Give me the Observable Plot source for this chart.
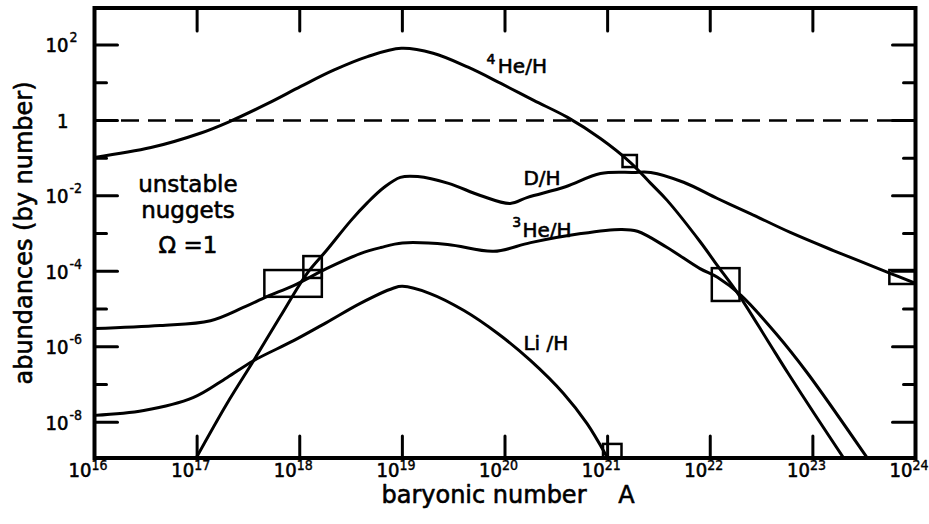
<!DOCTYPE html>
<html><head><meta charset="utf-8">
<script src="https://cdn.jsdelivr.net/npm/d3@7"></script>
<script src="https://cdn.jsdelivr.net/npm/@observablehq/plot@0.6"></script>
<style>body{margin:0;background:#fff}</style>
</head><body><div id="chart"></div>
<script>
// ---- data: [log10 A, log10 abundance] ----
const he4H = [[16.0,-0.98],[16.55,-0.72],[17.03,-0.34],[17.30,-0.05],[17.69,0.45],[18.01,0.90],[18.33,1.33],[18.66,1.69],[18.99,1.91],[19.30,1.78],[19.64,1.41],[19.96,0.98],[20.28,0.53],[20.61,0.08],[20.93,-0.48],[21.22,-1.11],[21.42,-1.67],[21.58,-2.12],[21.90,-3.21],[22.07,-3.85],[22.27,-4.59],[22.56,-5.84],[22.76,-6.71],[23.30,-8.95],[23.37,-9.23]];
const dH = [[16.97,-9.05],[17.29,-7.51],[17.55,-6.37],[17.81,-5.20],[18.07,-4.06],[18.26,-3.45],[18.50,-2.65],[18.66,-2.18],[18.82,-1.78],[18.98,-1.51],[19.15,-1.49],[19.45,-1.67],[19.76,-1.99],[20.05,-2.20],[20.22,-2.04],[20.59,-1.76],[20.93,-1.41],[21.25,-1.38],[21.42,-1.38],[21.74,-1.64],[22.07,-2.07],[22.39,-2.47],[22.78,-2.97],[23.20,-3.45],[23.76,-4.06],[24.0,-4.32]];
const he3H = [[16.0,-5.52],[16.64,-5.44],[17.13,-5.31],[17.45,-4.96],[17.68,-4.67],[17.94,-4.38],[18.26,-3.93],[18.59,-3.53],[18.79,-3.37],[19.0,-3.25],[19.44,-3.29],[19.89,-3.47],[20.25,-3.24],[20.74,-3.0],[21.13,-2.89],[21.29,-2.94],[21.58,-3.37],[21.90,-3.93],[22.07,-4.16],[22.30,-4.64],[22.64,-5.65],[22.95,-6.71],[23.53,-8.95],[23.56,-9.07]];
const liH = [[16.0,-7.82],[16.48,-7.69],[16.96,-7.35],[17.29,-6.82],[17.55,-6.37],[17.94,-5.84],[18.26,-5.36],[18.59,-4.85],[18.91,-4.45],[19.0,-4.40],[19.27,-4.59],[19.60,-5.04],[19.93,-5.65],[20.25,-6.37],[20.57,-7.24],[20.80,-8.04],[21.0,-8.95],[21.02,-9.05]];
// observational boxes: [logA1, logA2, logY1, logY2]
const boxes = [[21.15,21.29,-0.93,-1.25],[22.02,22.29,-3.93,-4.80],[23.75,24.0,-3.98,-4.35],[17.66,18.22,-3.98,-4.69],[18.04,18.22,-3.61,-4.19],[20.96,21.14,-8.59,-8.95]];
// ticks
const xTickExps = [16,17,18,19,20,21,22,23,24];
const yMajorExps = [2,0,-2,-4,-6,-8];
const yMinorExps = [1,-1,-3,-5,-7];
// curve labels: [text, logA, logY, fontSize]
const curveLabels = [["He/H",19.93,1.42,20],["4",19.82,1.62,14],["D/H",20.18,-1.55,20],["He/H",20.17,-2.93,20],["3",20.07,-2.70,14],["Li /H",20.18,-5.93,20]];
const noteLines = [["unstable",16.91,-1.70],["nuggets",16.91,-2.39],["\u03a9 =1",16.91,-3.32]];

const P = v => 10 ** v;
const tickShape = {draw(ctx, l) { ctx.moveTo(0, 0); ctx.lineTo(0, -l); }};
const font = "'DejaVu Sans', sans-serif";
const numFont = "'DejaVu Sans Condensed', 'DejaVu Sans', sans-serif";
const bold = {stroke: "black", strokeWidth: 0.6, fill: "black"};
const series = [he4H, dH, he3H, liH];

const marks = [
  Plot.ruleY([1], {stroke: "black", strokeWidth: 2.5, strokeDasharray: "18,9"}),
  ...series.map(s => Plot.line(s, {x: d => P(d[0]), y: d => P(d[1]), curve: "catmull-rom", stroke: "black", strokeWidth: 3, clip: true})),
  Plot.rect(boxes, {x1: d => P(d[0]), x2: d => P(d[1]), y1: d => P(d[2]), y2: d => P(d[3]), fill: "none", stroke: "black", strokeWidth: 2.5}),
  // ticks
  Plot.vector(xTickExps, {x: e => P(e), frameAnchor: "bottom", rotate: 0, length: 22, anchor: "start", shape: tickShape, stroke: "black", strokeWidth: 3}),
  Plot.vector(xTickExps, {x: e => P(e), frameAnchor: "top", rotate: 180, length: 23, anchor: "start", shape: tickShape, stroke: "black", strokeWidth: 3}),
  Plot.vector(yMajorExps, {y: e => P(e), frameAnchor: "left", rotate: 90, length: 23, anchor: "start", shape: tickShape, stroke: "black", strokeWidth: 3}),
  Plot.vector(yMinorExps, {y: e => P(e), frameAnchor: "left", rotate: 90, length: 12, anchor: "start", shape: tickShape, stroke: "black", strokeWidth: 3}),
  Plot.vector(yMajorExps, {y: e => P(e), frameAnchor: "right", rotate: -90, length: 23, anchor: "start", shape: tickShape, stroke: "black", strokeWidth: 3}),
  Plot.vector(yMinorExps, {y: e => P(e), frameAnchor: "right", rotate: -90, length: 12, anchor: "start", shape: tickShape, stroke: "black", strokeWidth: 3}),
  Plot.frame({stroke: "black", strokeWidth: 4}),
  // tick labels
  Plot.text(xTickExps, {x: e => P(e), frameAnchor: "bottom", text: () => "10", textAnchor: "end", dx: -3, dy: 19, fontSize: 20, fontFamily: numFont, ...bold}),
  Plot.text(xTickExps, {x: e => P(e), frameAnchor: "bottom", text: e => String(e), textAnchor: "start", dx: -3, dy: 12, fontSize: 14, fontFamily: numFont, ...bold, strokeWidth: 0.4}),
  Plot.text(yMajorExps, {y: e => P(e), frameAnchor: "left", text: e => e === 0 ? "1" : "10", textAnchor: "end", dx: -26, dy: 1, fontSize: 20, fontFamily: numFont, ...bold}),
  Plot.text(yMajorExps.filter(e => e !== 0), {y: e => P(e), frameAnchor: "left", text: e => e < 0 ? "-" + (-e) : String(e), textAnchor: "start", dx: -25, dy: -7, fontSize: 14, fontFamily: numFont, ...bold, strokeWidth: 0.4}),
  // curve labels
  Plot.text(curveLabels, {x: d => P(d[1]), y: d => P(d[2]), text: d => d[0], fontSize: d => d[3], textAnchor: "start", fontFamily: font, ...bold}),
  Plot.text(noteLines, {x: d => P(d[1]), y: d => P(d[2]), text: d => d[0], fontSize: 23, textAnchor: "middle", fontFamily: font, ...bold}),
  // axis titles
  Plot.text(["abundances (by number)"], {frameAnchor: "left", text: d => d, rotate: -90, textAnchor: "middle", dx: -70, fontSize: 24, fontFamily: font, ...bold}),
  Plot.text(["baryonic number\u2003 A"], {frameAnchor: "bottom", text: d => d, textAnchor: "middle", dx: 3, dy: 45, fontSize: 24, fontFamily: font, ...bold})
];

const chart = Plot.plot({
  width: 929, height: 524,
  marginLeft: 94, marginRight: 14, marginTop: 7.5, marginBottom: 66.5,
  x: {type: "log", domain: [1e16, 1e24], axis: null},
  y: {type: "log", domain: [P(-8.95), P(2.98)], axis: null},
  style: {background: "white", color: "black", fontFamily: font, overflow: "visible"},
  marks
});
document.getElementById("chart").appendChild(chart);
</script></body></html>
